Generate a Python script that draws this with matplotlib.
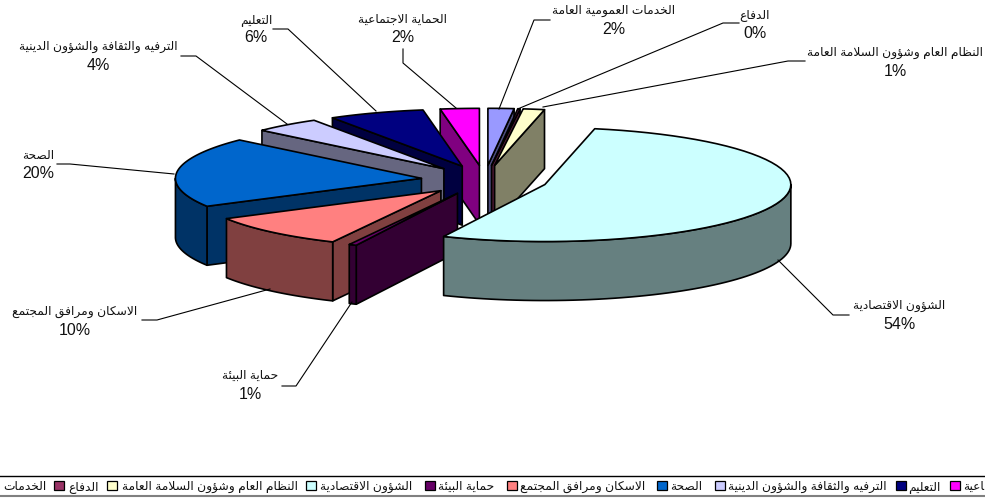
import unicodedata
import numpy as np
import matplotlib
matplotlib.use("Agg")
import matplotlib.pyplot as plt
from matplotlib.patches import Polygon, Rectangle

# slices clockwise from 12 o'clock
categories = ["الخدمات العمومية العامة", "الدفاع", "النظام العام وشؤون السلامة العامة",
              "الشؤون الاقتصادية", "حماية البيئة", "الاسكان ومرافق المجتمع", "الصحة",
              "الترفيه والثقافة والشؤون الدينية", "التعليم", "الحماية الاجتماعية"]
values = [1.7, 0.15, 1.4, 53.5, 0.5, 9.6, 19.9, 4.4, 6.3, 2.55]
pct_labels = ["2%", "0%", "1%", "54%", "1%", "10%", "20%", "4%", "6%", "2%"]
colors = ["#9999FF", "#993366", "#FFFFCC", "#CCFFFF", "#660066",
          "#FF8080", "#0066CC", "#CCCCFF", "#000080", "#FF00FF"]

legend_text = ["الخدمات", "الدفاع", "النظام العام وشؤون السلامة العامة", "الشؤون الاقتصادية",
               "حماية البيئة", "الاسكان ومرافق المجتمع", "الصحة",
               "الترفيه والثقافة والشؤون الدينية", "التعليم", "الحماية الاجتماعية"]

# pie geometry in pixels
CX, CY = 484.5, 181
A, B = 246, 57
EXPLODE = 0.258
DEPTH = 59
paint_order = [9, 0, 1, 2, 8, 7, 6, 5, 4, 3]

label_pos = [(614, 11, 30), (755, 15, 33), (895, 53, 71), (899, 306, 325), (250, 376, 395),
             (75, 312, 331), (38, 156, 174), (98, 47, 66), (256, 20, 38), (403, 20, 38)]
leaders = [[(499, 110), (534, 21), (550, 21)],
           [(520, 109), (723, 24), (739, 24)],
           [(543, 108), (788, 62), (805, 62)],
           [(778, 261), (833, 316), (849, 316)],
           [(352, 303), (296, 387), (282, 387)],
           [(270, 290), (157, 321), (142, 321)],
           [(174, 175), (70, 165), (57, 165)],
           [(287, 125), (196, 57), (181, 57)],
           [(376, 112), (288, 30), (273, 30)],
           [(456, 109), (403, 64), (403, 50)]]
legend_swatch_x = [None, 54, 107, 306, 425, 507, 657, 715, 896, 950]
legend_text_x = [3, 68, 122, 320, 438, 520, 670, 728, 908, 963]


def build_forms():
    forms = {}
    for code in range(0xFE70, 0xFEFD):
        dec = unicodedata.decomposition(chr(code)).split()
        if len(dec) < 2 or not dec[0].startswith("<"):
            continue
        key = "".join(chr(int(c, 16)) for c in dec[1:])
        forms.setdefault(key, {})[dec[0].strip("<>")] = chr(code)
    return forms


FORMS = build_forms()


def shape(text):
    # matplotlib does no arabic shaping, so pick the glyph forms by hand
    text = text.replace("لا", "\0")
    get = lambda c: FORMS.get("لا" if c == "\0" else c)
    out = []
    for i, c in enumerate(text):
        f = get(c)
        if f is None or len(f) < 2:
            out.append("لا" if c == "\0" else c)
            continue
        prev = get(text[i - 1]) if i > 0 else None
        nxt = get(text[i + 1]) if i + 1 < len(text) else None
        from_prev = prev is not None and "initial" in prev
        to_next = nxt is not None and "initial" in f
        if from_prev and to_next:
            out.append(f["medial"])
        elif from_prev:
            out.append(f["final"])
        elif to_next:
            out.append(f["initial"])
        else:
            out.append(f["isolated"])
    return "".join(out)[::-1]


def shade(col):
    return tuple(0.5 * v for v in matplotlib.colors.to_rgb(col))


plt.rcParams["font.family"] = ["Liberation Sans", "DejaVu Sans"]
fig = plt.figure(figsize=(9.85, 5.02), dpi=100)
ax = fig.add_axes([0, 0, 1, 1])
ax.set_xlim(0, 985)
ax.set_ylim(502, 0)
ax.axis("off")

edges = np.cumsum([0] + values) / sum(values) * 360


def point(apex, deg):
    t = np.radians(deg)
    return apex[0] + A * np.sin(t), apex[1] - B * np.cos(t)


def face(pts, col, z):
    ax.add_patch(Polygon(pts, closed=True, facecolor=col, edgecolor="black",
                         linewidth=1.2, joinstyle="round", zorder=z))


for z, i in enumerate(paint_order):
    t0, t1 = edges[i], edges[i + 1]
    mid = np.radians((t0 + t1) / 2)
    apex = (CX + EXPLODE * A * np.sin(mid), CY - EXPLODE * B * np.cos(mid))
    dark = shade(colors[i])
    down = lambda p: (p[0], p[1] + DEPTH)

    # radial walls, only the ones turned to the viewer
    if t1 < 180:
        p = point(apex, t1)
        face([apex, p, down(p), down(apex)], dark, z + 1)
    if t0 > 180:
        p = point(apex, t0)
        face([apex, p, down(p), down(apex)], dark, z + 1)

    # rim
    lo, hi = max(t0, 90), min(t1, 270)
    if lo < hi:
        arc = [point(apex, a) for a in np.linspace(lo, hi, 60)]
        face(arc + [down(p) for p in arc[::-1]], dark, z + 1)

    # top
    top = [point(apex, a) for a in np.linspace(t0, t1, 60)]
    face([apex] + top, colors[i], z + 1)

for i in range(len(categories)):
    xs, ys = zip(*leaders[i])
    ax.plot(xs, ys, color="black", lw=0.8, zorder=30)
    x, y1, y2 = label_pos[i]
    ax.text(x, y1, shape(categories[i]), ha="center", va="center", fontsize=8.8, color="#111111", zorder=31)
    ax.text(x, y2, pct_labels[i], ha="center", va="center", fontsize=11.5, color="#111111", zorder=31)

# legend strip runs off both sides of the picture
ax.plot([0, 985], [477, 477], color="black", lw=1, zorder=30)
ax.plot([0, 985], [497, 497], color="#808080", lw=1.5, zorder=30)
for i in range(len(legend_text)):
    if legend_swatch_x[i] is not None:
        ax.add_patch(Rectangle((legend_swatch_x[i], 482), 10, 9, facecolor=colors[i],
                               edgecolor="black", lw=0.9, zorder=30))
    shown = shape(legend_text[i])
    if i == len(legend_text) - 1:
        shown = shown[:4]  # only the tail of this entry fits before the edge
    ax.text(legend_text_x[i], 487, shown, ha="left", va="center",
            fontsize=8.8, color="#111111", zorder=31)

fig.savefig("out.png", dpi=100)
